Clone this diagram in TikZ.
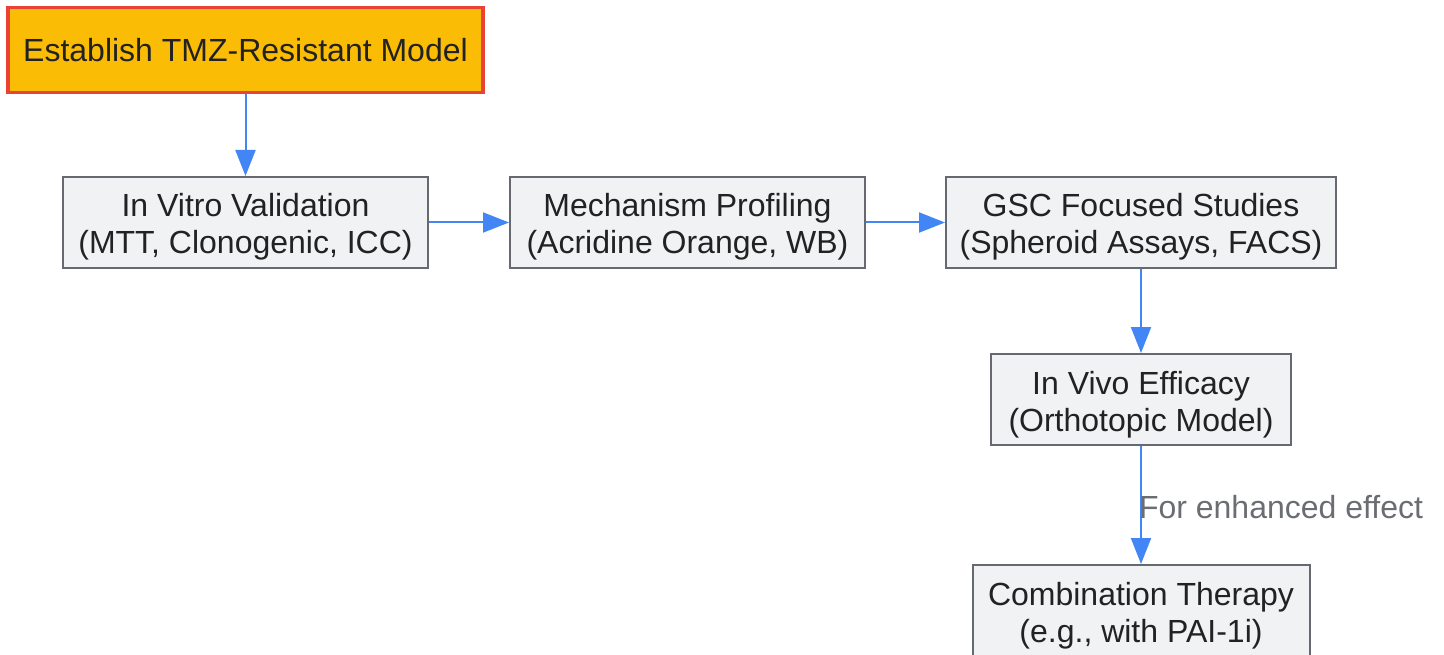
\documentclass[tikz,border=0pt]{standalone}
\usepackage{fontspec}
\setmainfont{Liberation Sans}
\usepackage{xcolor}
\usepackage{tikz}
\usetikzlibrary{arrows.meta, positioning}

\definecolor{stepfill}{HTML}{F1F2F4}
\definecolor{stepline}{HTML}{666A70}
\definecolor{startfill}{HTML}{FBBC05}
\definecolor{startline}{HTML}{EA4335}
\definecolor{flowblue}{HTML}{4285F4}
\definecolor{labelgray}{HTML}{6A6D72}
\definecolor{inktext}{HTML}{222222}

\begin{document}
\begin{tikzpicture}[x=1pt, y=-1pt,
    font=\fontsize{32}{37}\selectfont,
    stepbox/.style={draw=stepline, fill=stepfill, line width=2pt, text=inktext,
                    align=center, inner sep=0pt, minimum height=91pt,
                    text height=63pt, text depth=0pt},
    startbox/.style={draw=startline, fill=startfill, line width=3.5pt, text=inktext,
                     align=center, inner sep=0pt, minimum height=85pt, minimum width=475pt},
    flow/.style={draw=flowblue, line width=2pt, -{Triangle[length=26pt, width=20pt]}},
    edgetext/.style={text=labelgray, inner sep=0pt}]
                    % Canvas
                    \useasboundingbox (0,0) rectangle (1444,655);
                    % Start node
                    \node[startbox] (model) at (245.5,50) {Establish TMZ-Resistant Model};
                    % Steps
                    \node[stepbox, minimum width=365pt] (vitro) at (245.5,222.5) {In Vitro Validation\\(MTT, Clonogenic, ICC)};
                    \node[stepbox, minimum width=355pt] (mech) at (687.5,222.5) {Mechanism Profiling\\(Acridine Orange, WB)};
                    \node[stepbox, minimum width=390pt] (gsc) at (1141,222.5) {GSC Focused Studies\\(Spheroid Assays, FACS)};
                    \node[stepbox, minimum width=300pt] (vivo) at (1141,399.5) {In Vivo Efficacy\\(Orthotopic Model)};
                    \node[stepbox, minimum width=337pt] (combo) at (1141,610.5) {Combination Therapy\\(e.g., with PAI-1i)};
                    % Connectors
                    \draw[flow] (model) -- (vitro);
                    \draw[flow] (vitro) -- (mech);
                    \draw[flow] (mech) -- (gsc);
                    \draw[flow] (gsc) -- (vivo);
                    \draw[flow] (vivo) -- node[edgetext, anchor=west, xshift=-3pt, yshift=-2pt] {For enhanced effect} (combo);
                \end{tikzpicture}
\end{document}
